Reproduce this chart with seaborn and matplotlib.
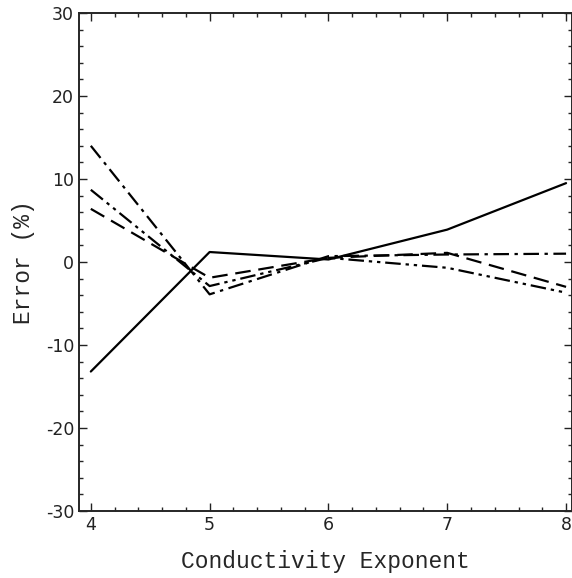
import matplotlib
matplotlib.use('Agg')
import matplotlib.pyplot as plt
import seaborn as sns
import pandas as pd
from matplotlib.ticker import MultipleLocator

# values
exponents = [4, 5, 6, 7, 8]
solid = [-13.2, 1.2, 0.3, 3.9, 9.5]
dashed = [6.4, -1.9, 0.5, 1.1, -3.0]
dash_dot = [14.0, -3.9, 0.7, 0.9, 1.0]
dash_dot_dot = [8.7, -2.9, 0.5, -0.7, -3.7]

series = {'solid': solid, 'dashed': dashed,
          'dashdot': dash_dot, 'dashdotdot': dash_dot_dot}
rows = []
for name, vals in series.items():
    for x, y in zip(exponents, vals):
        rows.append({'exponent': x, 'error': y, 'curve': name})
df = pd.DataFrame(rows)

sns.set_style('ticks')
plt.rcParams['axes.unicode_minus'] = False
fig = plt.figure(figsize=(5.72, 5.78), dpi=100)
ax = fig.add_axes([0.138, 0.116, 0.862, 0.8615])

dash_styles = {
    'solid': '',
    'dashed': (7, 3.5),
    'dashdot': (7, 2.5, 1.5, 2.5),
    'dashdotdot': (7, 2.2, 1.5, 2.2, 1.5, 2.2),
}
sns.lineplot(data=df, x='exponent', y='error', style='curve', dashes=dash_styles,
             color='black', linewidth=1.6, legend=False, ax=ax)

ax.set_xlim(3.9, 8.05)
ax.set_ylim(-30, 30)
ax.xaxis.set_major_locator(MultipleLocator(1))
ax.xaxis.set_minor_locator(MultipleLocator(0.2))
ax.yaxis.set_major_locator(MultipleLocator(10))
ax.yaxis.set_minor_locator(MultipleLocator(2))
ax.tick_params(which='both', direction='in', top=True, right=True, width=1)
ax.tick_params(which='major', length=6, labelsize=12.5, colors='#222222')
ax.tick_params(which='minor', length=3)
for s in ax.spines.values():
    s.set_linewidth(1.4)

mono = 'Liberation Mono'
ax.set_xlabel('Conductivity Exponent', family=mono, fontsize=16.5, labelpad=12)
ax.set_ylabel('Error (%)', family=mono, fontsize=16.5, labelpad=8)

fig.savefig('out.png', dpi=100)
